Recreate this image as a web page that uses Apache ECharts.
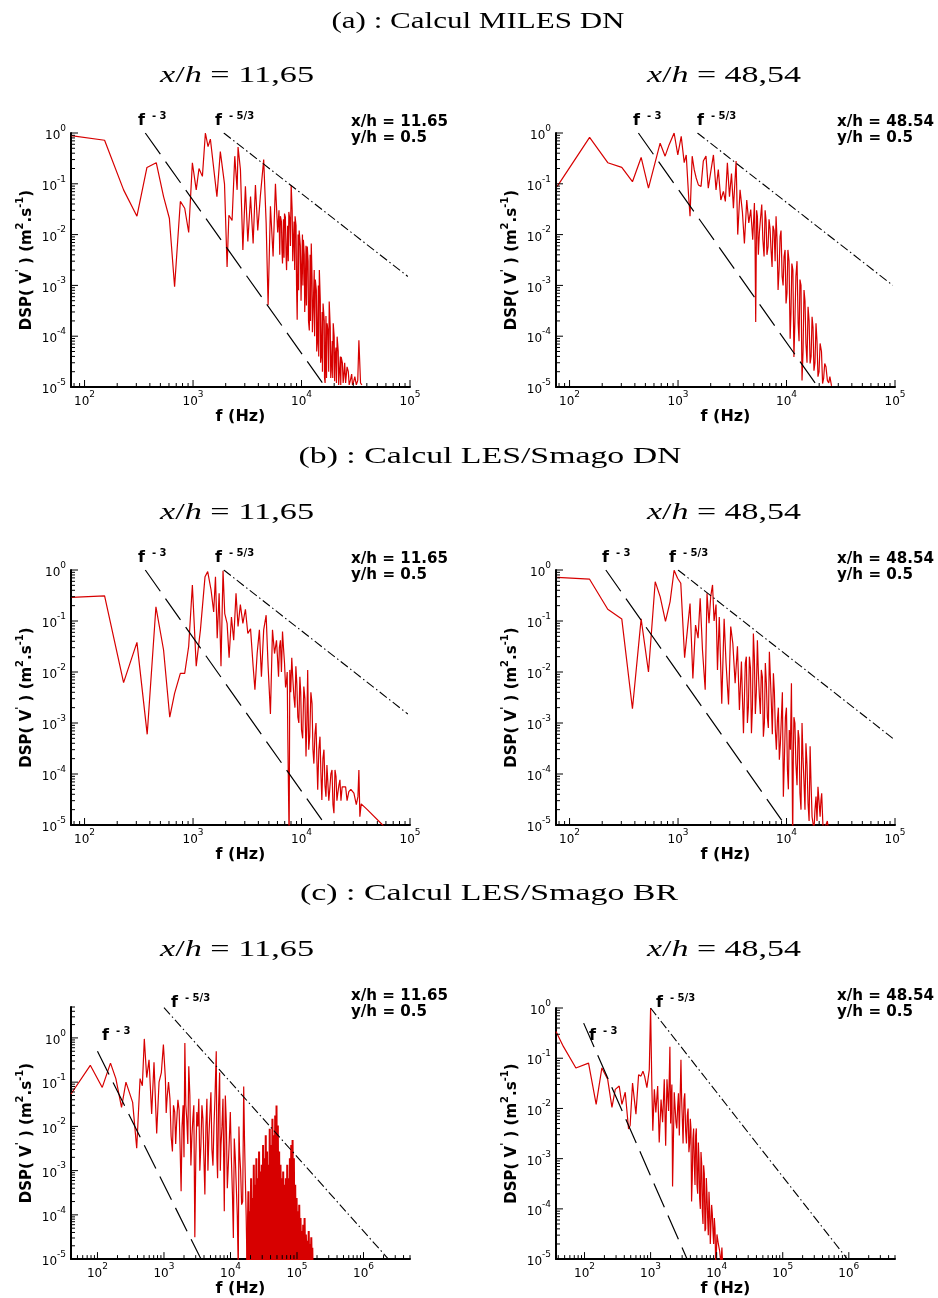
<!DOCTYPE html>
<html><head><meta charset="utf-8">
<script src="https://cdn.jsdelivr.net/npm/echarts@6/dist/echarts.min.js"></script>
<style>html,body{margin:0;padding:0;background:#fff}#c{width:938px;height:1298px}</style>
</head><body><div id="c"></div>
<script>
// ---------- DATA (frequency Hz, DSP value) ----------
const specMilesX1165 = [[75,0.89],[153,0.72],[229,0.076],[304,0.023],[376,0.21],[458,0.26],[535,0.056],[605,0.021],[676,9.4e-4],[764,0.045],[838,0.033],[912,0.011],[986,0.26],[1070,0.076],[1135,0.2],[1220,0.14],[1300,1.0],[1375,0.54],[1445,0.76],[1660,0.056],[1785,0.43],[1950,0.10],[2060,2.3e-3],[2140,0.024],[2290,0.019],[2425,0.35],[2550,0.076],[2600,0.53],[2735,0.19],[2880,5e-3],[3040,0.089],[3200,7.3e-3],[3390,0.056],[3580,6.7e-3],[3760,0.095],[3950,0.012],[4170,0.056],[4480,0.30],[4720,0.017],[4920,4.1e-4],[5170,0.036],[5470,3.7e-3],[5750,0.10],[6030,0.011],[6390,0.023],[6680,2.7e-3],[6970,0.026],[7280,2e-3],[7640,0.028],[8030,0.095],[8380,5.8e-3],[8720,0.023],[9120,2.1e-4],[9510,0.012],[10000,1.5e-3],[10400,7.9e-3],[10800,6e-4],[11300,5.8e-3],[11800,1.3e-4],[12300,6.7e-3],[12800,3.3e-4],[13400,1.3e-3],[14000,7.2e-5],[14600,2e-3],[15200,3.9e-5],[15800,4.4e-4],[16500,1.2e-5],[17200,1.8e-4],[18000,4.8e-4],[18800,2.1e-5],[19600,1.8e-4],[20400,3.9e-5],[21300,9.8e-5],[22300,1.8e-5],[23200,3.9e-5],[24500,1.6e-5],[26300,2.5e-5],[28200,1.35e-5],[30200,1.26e-5],[33000,1.35e-5],[33800,8.3e-5],[35000,1.2e-5],[36000,1.1e-5]];
const specMilesX1165Dense = [[6200,0.03],[6300,4e-3],[6530,0.018],[6600,5e-3],[6820,0.02],[6900,3.5e-3],[7100,0.022],[7200,4e-3],[7450,0.015],[7550,3e-3],[7800,0.02],[7900,6e-3],[8200,0.03],[8300,3e-3],[8550,0.018],[8650,2e-3],[8900,0.015],[9000,1e-3],[9300,0.01],[9400,8e-4],[9750,6e-3],[9900,5e-4],[10200,0.01],[10300,1e-3],[10600,4e-3],[10700,3e-4],[11000,6e-3],[11100,4e-4],[11500,3e-3],[11600,2e-4],[12000,4e-3],[12100,2e-4],[12500,1.5e-3],[12600,1.2e-4],[13100,2e-3],[13200,1e-4],[13700,8e-4],[13800,5e-5],[14300,1e-3],[14400,4e-5],[14900,5e-4],[15000,3e-5],[15500,3e-4],[15600,2e-5],[16200,2e-4],[16300,1.5e-5],[16800,2.5e-4],[17000,1.5e-5],[17600,1.2e-4],[17800,2e-5],[18400,1.5e-4],[18600,1.5e-5],[19200,8e-5],[19400,1.5e-5],[20000,1e-4],[20200,1.3e-5],[20800,6e-5],[21000,1.2e-5],[21800,5e-5],[22000,1.1e-5],[22800,4e-5],[23000,1.1e-5],[23800,3e-5],[24200,1.2e-5],[25000,3e-5],[25500,1.2e-5],[27000,2e-5],[27500,1.1e-5],[29000,1.8e-5],[29500,1.1e-5],[31000,1.6e-5],[32000,1.1e-5]];

const specMilesX4854 = [[77,0.089],[153,0.82],[225,0.26],[303,0.21],[380,0.11],[457,0.33],[534,0.082],[684,0.63],[760,0.35],[828,0.59],[920,1.0],[995,0.37],[1070,0.86],[1140,0.26],[1190,0.37],[1250,0.06],[1290,0.023],[1350,0.35],[1410,0.19],[1470,0.13],[1540,0.095],[1630,0.089],[1710,0.28],[1810,0.35],[1900,0.082],[2000,0.17],[2120,0.37],[2240,0.076],[2350,0.19],[2480,0.048],[2620,0.071],[2730,0.045],[2850,0.26],[2980,0.056],[3110,0.16],[3240,0.033],[3430,0.28],[3550,0.01],[3730,0.076],[3920,0.028],[4090,6.7e-3],[4300,0.048],[4490,0.017],[4680,0.031],[4880,7.9e-3],[5060,0.042],[5200,1.9e-4],[5390,0.023],[5620,0.011],[5910,0.039],[6210,3.7e-3],[6480,0.019],[6760,5.8e-3],[7050,0.013],[7360,2.3e-3],[7680,0.012],[8010,0.023],[8360,8.1e-4],[8720,9.1e-3],[9110,1.5e-3],[9490,3.7e-3],[9900,4.4e-4],[10300,5e-3],[10800,8.9e-5],[11200,2.7e-3],[11700,3.9e-5],[12200,1.5e-3],[12800,1.8e-4],[13300,1.3e-3],[13900,1.35e-5],[14500,8.1e-4],[15100,7.2e-5],[15800,3.8e-4],[16500,2.9e-5],[17200,2.4e-4],[17900,2.1e-5],[18700,1.8e-4],[19500,1.6e-5],[20400,7.2e-5],[21500,1.17e-5],[22500,2.9e-5],[23800,1.35e-5],[25100,1.6e-5],[26000,1.05e-5]];
const specMilesX4854Dense = [[5130,6e-3],[5300,0.03],[5500,4e-3],[5750,0.02],[6050,8e-3],[6350,0.03],[6600,4e-3],[6900,0.02],[7200,5e-3],[7500,0.015],[7850,3e-3],[8180,0.008],[8540,2e-3],[8900,0.012],[9300,1e-3],[9700,5e-3],[10100,7e-4],[10550,3e-3],[11000,3e-4],[11450,2e-3],[11950,2e-4],[12500,3e-3],[13050,8e-5],[13600,1e-3],[14200,5e-5],[14800,5e-4],[15450,3e-5],[16150,2e-4],[16850,4e-5],[17550,1.5e-4],[18300,3e-5],[19100,8e-5],[19950,2e-5],[21000,5e-5],[22000,1.5e-5],[23100,2.5e-5],[24500,1.2e-5]];

const specSmagoDnX1165 = [[76,0.29],[153,0.31],[229,6.2e-3],[304,0.038],[378,6e-4],[455,0.19],[535,0.027],[610,1.3e-3],[676,3.8e-3],[764,9.4e-3],[838,9.4e-3],[912,0.032],[986,0.51],[1070,0.013],[1170,0.067],[1290,0.74],[1365,0.93],[1465,0.41],[1550,0.15],[1610,0.74],[1670,0.046],[1740,0.35],[1810,0.013],[1890,0.97],[1960,0.14],[2060,0.09],[2150,0.019],[2260,0.12],[2370,0.042],[2490,0.35],[2600,0.078],[2730,0.21],[2880,0.09],[3040,0.17],[3200,0.057],[3390,0.07],[3580,0.013],[3720,4.5e-3],[3900,0.023],[4090,0.067],[4270,8.1e-3],[4480,0.067],[4720,0.13],[4920,0.013],[5170,1.5e-3],[5400,0.067],[5640,0.023],[5880,0.042],[6140,8.1e-3],[6390,0.042],[6680,0.062],[6970,0.015],[7280,6.9e-3],[7480,4.7e-4],[7690,5e-6],[7800,0.011],[8130,0.019],[8500,3.3e-3],[8870,0.013],[9250,1.3e-3],[9660,8.1e-3],[10000,7.3e-4],[10500,5.2e-3],[11000,2.2e-4],[11400,0.011],[11900,5.4e-4],[12500,2.4e-3],[13000,1.6e-4],[13600,1e-3],[14100,4.9e-5],[14800,5.4e-4],[15400,3.1e-5],[16100,3e-4],[16800,3.6e-5],[17500,1.6e-4],[18200,4.9e-5],[19100,1.2e-4],[19900,1.7e-5],[20800,8.9e-5],[21600,4.2e-5],[22600,7.7e-5],[23700,5.6e-5],[25500,5.6e-5],[27300,4.5e-5],[30400,4.2e-5],[33100,3.6e-5],[33800,1.2e-4],[34500,1.45e-5],[35500,2.6e-5],[40400,2e-5],[56000,1e-5],[60000,8e-6]];
const specSmagoDnX1165Dense = [[6000,0.02],[6250,0.03],[6530,0.01],[6820,0.03],[7130,0.005],[7380,0.01],[7950,4e-3],[8300,0.008],[8700,2e-3],[9050,6e-3],[9450,1e-3],[9830,4e-3],[10250,5e-4],[10750,3e-3],[11200,1e-3],[11650,3e-4],[12200,4e-3],[12750,3e-4],[13300,6e-4],[13850,2e-4],[14450,3e-4],[15100,1e-4],[15750,2e-4],[16450,6e-5],[17150,1.5e-4],[17850,3e-5],[18650,1e-4],[19500,2.5e-5],[20350,1.2e-4],[21200,3e-5],[22100,6e-5],[23100,3e-5],[24500,6e-5],[26300,3e-5],[28500,5e-5],[32000,2.5e-5]];

const specSmagoDnX4854 = [[77,0.72],[153,0.66],[225,0.17],[303,0.11],[380,1.9e-3],[457,0.11],[534,0.01],[616,0.59],[684,0.3],[766,0.098],[845,0.24],[920,0.99],[990,0.69],[1060,0.55],[1150,0.019],[1220,0.067],[1290,0.22],[1370,7.5e-3],[1450,0.083],[1530,0.046],[1600,0.28],[1680,0.027],[1780,4.5e-3],[1850,0.35],[1930,0.09],[2000,0.3],[2080,0.51],[2150,0.1],[2240,0.21],[2310,0.011],[2400,0.12],[2530,2.4e-3],[2660,0.11],[2770,0.015],[2920,2.3e-3],[3060,0.078],[3200,0.036],[3360,6e-3],[3530,0.032],[3680,1.8e-3],[3840,0.016],[4010,6.3e-4],[4170,0.015],[4360,1e-3],[4550,0.02],[4750,6.3e-4],[4950,0.057],[5160,1.5e-3],[5390,0.042],[5620,3.3e-3],[5860,0.011],[6120,5.4e-4],[6380,0.015],[6660,1.3e-3],[6950,0.025],[7250,2.4e-3],[7570,9.4e-3],[7890,7.3e-4],[8240,1.1e-3],[8590,1.9e-4],[8970,1.3e-3],[9350,3.6e-5],[9770,1.3e-3],[10200,1.2e-4],[10600,7.3e-4],[11100,6e-3],[11400,5e-6],[11700,1.3e-3],[12200,1.6e-4],[12800,7.3e-4],[13300,4.2e-5],[13900,1e-3],[14500,6.6e-5],[15100,4e-4],[15800,2.6e-5],[16500,3.5e-4],[17200,1.45e-5],[17900,8e-6],[18700,3.6e-5],[19500,5.6e-5],[20400,1.45e-5],[21100,4.2e-5],[22200,8e-6],[23800,1.2e-5],[24300,8e-6]];
const specSmagoDnX4854Dense = [[4090,3e-3],[4260,0.02],[4450,2e-3],[4650,0.012],[4850,2e-3],[5050,0.02],[5270,4e-3],[5500,0.01],[5740,1.5e-3],[5990,0.008],[6250,1e-3],[6520,0.006],[6800,8e-4],[7100,0.008],[7400,6e-4],[7730,0.004],[8060,3e-4],[8410,2e-3],[8780,4e-4],[9160,4e-3],[9560,2e-4],[9980,2e-3],[10400,5e-5],[10850,3e-4],[11550,2e-4],[11950,1e-3],[12500,6e-5],[13050,5e-4],[13600,2e-5],[14200,2e-4],[14800,2e-5],[15450,1.5e-4],[16150,1.2e-5],[16850,6e-5],[18300,2e-5],[19100,1.2e-5],[20750,3e-5],[21650,1e-5]];

const specSmagoBrX1165 = [[40,0.054],[78,0.24],[118,0.076],[157,0.27],[189,0.12],[230,0.027],[268,0.10],[338,0.035],[389,3.2e-3],[437,0.12],[473,0.083],[506,0.95],[550,0.127],[596,0.32],[653,0.019],[708,0.28],[777,6.9e-3],[843,0.1],[913,0.165],[980,0.71],[1050,0.12],[1120,0.049],[1230,0.042],[1340,2.7e-3],[1450,0.021],[1550,0.0125],[1690,0.023],[1810,3.4e-4],[1940,0.03],[2060,0.77],[2200,0.015],[2360,0.23],[2540,1.3e-3],[2720,0.015],[2910,3.1e-5],[3120,0.021],[3340,0.042],[3590,3.7e-3],[3850,0.015],[4120,2.9e-4],[4420,0.042],[4740,6.3e-3],[5080,0.059],[5450,1.3e-3],[5840,0.042],[6110,0.5],[6400,6.7e-4],[6870,0.165],[7190,3.7e-3],[7710,0.042],[8070,1.2e-4],[8650,0.0125],[9270,1.3e-3],[9940,0.021],[10700,2.9e-4],[11400,5.3e-3],[12200,4.8e-4],[13100,5e-6],[13700,2.7e-3],[14700,1.7e-4],[15800,0.08],[16700,6.7e-4],[17800,5e-6]];
const specSmagoBrX1165Dense = [[1080,0.02],[1170,0.1],[1280,0.006],[1390,0.03],[1500,0.004],[1620,0.04],[1750,0.003],[1870,0.01],[2000,0.002],[2130,0.03],[2280,0.004],[2450,0.05],[2630,0.006],[2810,0.03],[3010,0.002],[3230,0.01],[3460,0.001],[3720,0.03],[3980,0.002],[4270,0.01],[4580,0.001],[4910,0.02],[5260,0.003],[5640,0.01],[6250,0.002],[6630,0.03],[7030,0.001],[7450,0.01],[7890,0.002],[8360,0.05],[8960,4e-4],[9600,0.005],[10300,2e-3],[11050,3e-5],[11800,2e-3],[12650,1e-4],[13400,0.01],[14200,1e-3],[15250,2e-4],[16250,0.005],[17200,1e-4]];
// the solid-looking high-frequency band of panel (c) x/h = 11.65 (peaks and troughs)
const specSmagoBrX1165Band = [[17800,5e-6],[18600,3.4e-4],[19000,5e-6],[19500,1.2e-4],[19900,5e-6],[20400,6.7e-4],[20900,5e-6],[21400,2.4e-4],[21900,5e-6],[22400,1.35e-3],[22900,5e-6],[23400,4.8e-4],[23900,5e-6],[24500,1.9e-3],[25000,5e-6],[25700,6.7e-4],[26300,5e-6],[26900,2.7e-3],[27500,5e-6],[28200,9.5e-4],[28800,5e-6],[29500,1.35e-3],[30200,5e-6],[30900,3.8e-3],[31600,5e-6],[32400,1.9e-3],[33100,5e-6],[33900,6.3e-3],[34700,5e-6],[35500,2.7e-3],[36300,5e-6],[37200,1.35e-3],[38000,5e-6],[38900,8.9e-3],[39800,5e-6],[40800,3.8e-3],[41700,5e-6],[42700,1.49e-2],[43700,5e-6],[44800,6.3e-3],[45800,5e-6],[47000,1.76e-2],[48000,5e-6],[49200,2.95e-2],[50300,5e-6],[51500,1.05e-2],[52700,5e-6],[53900,2.7e-3],[55100,5e-6],[56500,1.35e-3],[57800,5e-6],[59200,6.7e-4],[60600,5e-6],[62000,9.5e-4],[63400,5e-6],[65000,4.8e-4],[66500,5e-6],[68000,6.7e-4],[69600,5e-6],[71300,1.35e-3],[72900,5e-6],[74600,6.7e-4],[76300,5e-6],[78200,1.9e-3],[80000,5e-6],[81900,3.8e-3],[83800,5e-6],[85800,4.9e-3],[87800,5e-6],[89800,1.9e-3],[91900,5e-6],[94000,4.8e-4],[96200,5e-6],[98600,2.4e-4],[101000,5e-6],[103000,1.2e-4],[106000,5e-6],[108000,1.7e-4],[111000,5e-6],[113000,8.5e-5],[116000,5e-6],[119000,4.3e-5],[121000,5e-6],[124000,6e-5],[127000,5e-6],[130000,8.5e-5],[133000,5e-6],[136000,3.6e-5],[140000,5e-6],[143000,2.6e-5],[146000,5e-6],[150000,4.3e-5],[153000,5e-6],[157000,2.2e-5],[160000,5e-6],[164000,3.1e-5],[167000,5e-6],[170000,1.8e-5],[172000,5e-6]];

const specSmagoBrX4854 = [[37,0.34],[48,0.17],[74,0.064],[115,0.08],[150,0.012],[183,0.064],[224,0.038],[260,0.0105],[292,0.024],[335,0.028],[368,0.012],[413,0.021],[464,3.9e-3],[490,4.6e-3],[533,0.032],[600,7.7e-3],[658,0.047],[714,0.044],[766,0.055],[811,0.044],[879,0.026],[955,0.059],[1000,1.0],[1040,0.038],[1080,3.6e-3],[1140,0.024],[1200,8.3e-3],[1280,0.028],[1350,2.1e-3],[1440,0.015],[1520,5.3e-3],[1610,0.038],[1690,1.8e-3],[1770,0.038],[1870,8.9e-3],[1960,0.17],[2060,0.018],[2150,2.8e-4],[2280,0.021],[2420,5.3e-3],[2570,0.011],[2720,2.9e-3],[2880,0.093],[3020,6.2e-3],[3200,0.015],[3390,3.6e-3],[3590,7.1e-3],[3800,1.35e-3],[3990,6.2e-3],[4170,1.4e-4],[4370,2.5e-3],[4590,7.4e-4],[4810,2.9e-3],[5040,3e-4],[5280,2.1e-3],[5530,1.6e-4],[5790,1.35e-3],[6070,8.9e-5],[6350,7.4e-4],[6650,3.6e-5],[6970,4.1e-4],[7300,6.6e-5],[7650,2.2e-4],[8010,2e-5],[8390,1.2e-4],[8790,3.6e-5],[9220,6.6e-5],[9660,8e-6],[10100,3.1e-5],[10600,2e-5],[11100,1.45e-5],[11600,8e-6],[12000,1.7e-5],[12300,8e-6]];
const specSmagoBrX4854Dense = [[2010,0.005],[2100,0.03],[2210,0.002],[2350,0.02],[2490,0.004],[2640,0.02],[2800,0.003],[2950,0.015],[3100,0.002],[3290,0.02],[3490,0.002],[3690,0.01],[3900,0.002],[4080,0.004],[4270,4e-4],[4480,0.004],[4700,3e-4],[4920,0.004],[5160,2e-4],[5400,0.001],[5660,1e-4],[5930,8e-4],[6210,5e-5],[6500,5e-4],[6810,4e-5],[7130,2e-4],[7470,3e-5],[7830,1e-4],[8200,2e-5],[8590,8e-5],[9000,2e-5],[9440,4e-5],[9880,1.2e-5],[10350,3e-5]];

// reference slopes f^-3 and f^-5/3 (end points)
const slope3_a1 = [[363,1],[16600,1e-5]];
const slope53_a1 = [[1920,1],[95500,1.5e-3]];
const slope3_a2 = [[431,1],[19500,1e-5]];
const slope53_a2 = [[1510,1],[95500,1e-3]];
const slope3_b1 = [[363,1],[16600,1e-5]];
const slope53_b1 = [[1920,1],[95500,1.5e-3]];
const slope3_b2 = [[216,1],[9700,1e-5]];
const slope53_b2 = [[1000,1],[95500,5e-4]];
const slope3_c1 = [[100,0.5],[3600,1e-5]];
const slope53_c1 = [[1000,4.84],[2.37e6,1e-5]];
const slope3_c2 = [[97,0.5],[3630,9.5e-6]];
const slope53_c2 = [[1000,1],[9.5e5,1e-5]];

const sectionTitles = ['(a) : Calcul MILES DN', '(b) : Calcul LES/Smago DN', '(c) : Calcul LES/Smago BR'];
const stationTitles = ['11,65', '48,54'];
const stationNotes = ['x/h = 11.65\ny/h = 0.5', 'x/h = 48.54\ny/h = 0.5'];

function merged(a, b){ return a.concat(b).sort((p, q) => p[0] - q[0]); }

// ---------- LAYOUT ----------
const panels = [
  {left:71, top:133, width:339, height:254, xMin:75, xMax:1e5, yMin:1e-5, yMax:1, data:merged(specMilesX1165, specMilesX1165Dense), s3:slope3_a1, s53:slope53_a1, note:0, f3:[138,120], f53:[215,120], noteXY:[351,130]},
  {left:556, top:133, width:339, height:254, xMin:75, xMax:1e5, yMin:1e-5, yMax:1, data:merged(specMilesX4854, specMilesX4854Dense), s3:slope3_a2, s53:slope53_a2, note:1, f3:[633,120], f53:[697,120], noteXY:[837,130]},
  {left:71, top:570, width:339, height:255, xMin:75, xMax:1e5, yMin:1e-5, yMax:1, data:merged(specSmagoDnX1165, specSmagoDnX1165Dense), s3:slope3_b1, s53:slope53_b1, note:0, f3:[138,557], f53:[215,557], noteXY:[351,567]},
  {left:556, top:570, width:339, height:255, xMin:75, xMax:1e5, yMin:1e-5, yMax:1, data:merged(specSmagoDnX4854, specSmagoDnX4854Dense), s3:slope3_b2, s53:slope53_b2, note:1, f3:[602,557], f53:[669,557], noteXY:[837,567]},
  {left:71, top:1007, width:339, height:255, xMin:40, xMax:5e6, yMin:1e-5, yMax:5, data:merged(specSmagoBrX1165, specSmagoBrX1165Dense), band:specSmagoBrX1165Band, s3:slope3_c1, s53:slope53_c1, note:0, f3:[102,1035], f53:[171,1002], noteXY:[351,1004]},
  {left:556, top:1008, width:339, height:254, xMin:37, xMax:5e6, yMin:1e-5, yMax:1, data:merged(specSmagoBrX4854, specSmagoBrX4854Dense), s3:slope3_c2, s53:slope53_c2, note:1, f3:[589,1035], f53:[656,1002], noteXY:[837,1004]}
];

function powLabel(v){
  const e = Math.log10(v), r = Math.round(e);
  if (Math.abs(e - r) > 1e-6) return '';
  return '{b|10}{s|' + r + '}';
}
const tickRich = {
  b:{fontFamily:'DejaVu Sans', fontSize:12, color:'#000', lineHeight:18, verticalAlign:'bottom'},
  s:{fontFamily:'DejaVu Sans', fontSize:9, color:'#000', lineHeight:9, verticalAlign:'top'}
};

function tickData(p){
  const out = [];
  const lx0 = Math.floor(Math.log10(p.xMin)), lx1 = Math.ceil(Math.log10(p.xMax));
  for (let e = lx0; e <= lx1; e++) for (let k = 1; k <= 9; k++) {
    const v = k * Math.pow(10, e);
    if (v >= p.xMin * 0.999 && v <= p.xMax * 1.001) out.push([v, p.yMin, 0, k === 1 ? 1 : 0]);
  }
  const ly0 = Math.floor(Math.log10(p.yMin)), ly1 = Math.ceil(Math.log10(p.yMax));
  for (let e = ly0; e <= ly1; e++) for (let k = 1; k <= 9; k++) {
    const v = k * Math.pow(10, e);
    if (v >= p.yMin * 0.999 && v <= p.yMax * 1.001) out.push([p.xMin, v, 1, k === 1 ? 1 : 0]);
  }
  return out;
}
function renderTick(params, api){
  const pt = api.coord([api.value(0), api.value(1)]);
  const len = api.value(3) ? 7 : 4;
  const shape = api.value(2) === 0
    ? {x1:pt[0], y1:pt[1], x2:pt[0], y2:pt[1] - len}
    : {x1:pt[0], y1:pt[1], x2:pt[0] + len, y2:pt[1]};
  return {type:'line', shape, style:{stroke:'#000', lineWidth:1}};
}

const ctx = document.createElement('canvas').getContext('2d');
function serifText(cx, cy, text, targetW){
  const plain = text.replace(/\{i\|([^}]*)\}/g, '$1');
  ctx.font = '23px "Liberation Serif"';
  const w = ctx.measureText(plain).width || targetW;
  return {type:'text', x:cx, y:cy, scaleX:targetW / w, silent:true,
    style:{text, fontFamily:'Liberation Serif', fontSize:23, fill:'#000',
      align:'center', verticalAlign:'middle', textAlign:'center', textVerticalAlign:'middle',
      rich:{i:{fontFamily:'Liberation Serif', fontSize:23, fontStyle:'italic', fill:'#000', color:'#000'}}}};
}
function noteText(x, y, text, targetW){
  ctx.font = 'bold 15px "DejaVu Sans"';
  const w = ctx.measureText(text.split('\n')[0]).width || targetW;
  return {type:'text', x, y, scaleX:targetW / w, silent:true,
    style:{text, fontFamily:'DejaVu Sans', fontWeight:'bold', fontSize:15, lineHeight:16.5, fill:'#000',
      align:'left', verticalAlign:'middle', textAlign:'left', textVerticalAlign:'middle'}};
}

const option = {animation:false, backgroundColor:'#fff', grid:[], xAxis:[], yAxis:[], series:[], graphic:[]};
const RED = '#d70000';

panels.forEach((p, i) => {
  option.grid.push({left:p.left, top:p.top, width:p.width, height:p.height, containLabel:false});
  option.xAxis.push({type:'log', logBase:10, gridIndex:i, min:p.xMin, max:p.xMax,
    axisLine:{show:true, onZero:false, lineStyle:{color:'#000', width:2}},
    axisTick:{show:false}, minorTick:{show:false}, splitLine:{show:false}, minorSplitLine:{show:false},
    axisLabel:{formatter:powLabel, margin:3, rich:tickRich},
    name:'f (Hz)', nameLocation:'middle', nameGap:17,
    nameTextStyle:{fontFamily:'DejaVu Sans', fontWeight:'bold', fontSize:16, color:'#000'}});
  option.yAxis.push({type:'log', logBase:10, gridIndex:i, min:p.yMin, max:p.yMax,
    axisLine:{show:true, onZero:false, lineStyle:{color:'#000', width:2}},
    axisTick:{show:false}, minorTick:{show:false}, splitLine:{show:false}, minorSplitLine:{show:false},
    axisLabel:{formatter:powLabel, margin:5, rich:tickRich},
    name:"{n|DSP( V}{p|'}{n| ) (m}{p|2}{n|.s}{p|-1}{n|)}", nameLocation:'middle', nameGap:36,
    nameTextStyle:{fontFamily:'DejaVu Sans', fontWeight:'bold', fontSize:15, color:'#000',
      rich:{n:{fontFamily:'DejaVu Sans', fontWeight:'bold', fontSize:15, color:'#000', lineHeight:20, verticalAlign:'bottom'},
            p:{fontFamily:'DejaVu Sans', fontWeight:'bold', fontSize:10, color:'#000', lineHeight:10, verticalAlign:'top'}}}});
  option.series.push({type:'line', xAxisIndex:i, yAxisIndex:i, data:p.data, symbol:'none', showSymbol:false,
    clip:true, lineStyle:{color:RED, width:1.2}, z:3, silent:true});
  if (p.band) option.series.push({type:'line', xAxisIndex:i, yAxisIndex:i, data:p.band, symbol:'none', showSymbol:false,
    clip:true, lineStyle:{color:RED, width:2}, z:3, silent:true});
  option.series.push({type:'line', xAxisIndex:i, yAxisIndex:i, data:p.s3, symbol:'none', clip:true,
    lineStyle:{color:'#000', width:1.2, type:[26,9]}, z:4, silent:true});
  option.series.push({type:'line', xAxisIndex:i, yAxisIndex:i, data:p.s53, symbol:'none', clip:true,
    lineStyle:{color:'#000', width:1.1, type:[9,3,1.5,3]}, z:4, silent:true});
  option.series.push({type:'custom', xAxisIndex:i, yAxisIndex:i, data:tickData(p), renderItem:renderTick, z:5, silent:true, clip:false});

  const supRich = {f:{fontFamily:'DejaVu Sans', fontWeight:'bold', fontSize:16, fill:'#000', color:'#000', lineHeight:18, verticalAlign:'bottom'},
                   s:{fontFamily:'DejaVu Sans', fontWeight:'bold', fontSize:10, fill:'#000', color:'#000', lineHeight:10, verticalAlign:'top'}};
  option.graphic.push({type:'text', x:p.f3[0], y:p.f3[1], silent:true,
    style:{text:'{f|f}{s|  - 3}', rich:supRich, align:'left', verticalAlign:'middle', textAlign:'left', textVerticalAlign:'middle', fill:'#000'}});
  option.graphic.push({type:'text', x:p.f53[0], y:p.f53[1], silent:true,
    style:{text:'{f|f}{s|  - 5/3}', rich:supRich, align:'left', verticalAlign:'middle', textAlign:'left', textVerticalAlign:'middle', fill:'#000'}});
  option.graphic.push(noteText(p.noteXY[0], p.noteXY[1], stationNotes[p.note], 97));
});

// section titles and station headers
const titleY = [22, 457, 894];
const titleX = [478, 490, 489];
const titleW = [293, 383, 378];
const headY = [76, 513, 950];
titleY.forEach((y, k) => {
  option.graphic.push(serifText(titleX[k], y, sectionTitles[k], titleW[k]));
  option.graphic.push(serifText(237, headY[k], '{i|x}/{i|h} = ' + stationTitles[0], 156));
  option.graphic.push(serifText(724, headY[k], '{i|x}/{i|h} = ' + stationTitles[1], 156));
});

const chart = echarts.init(document.getElementById('c'), null, {renderer:'canvas'});
chart.setOption(option);
</script></body></html>
